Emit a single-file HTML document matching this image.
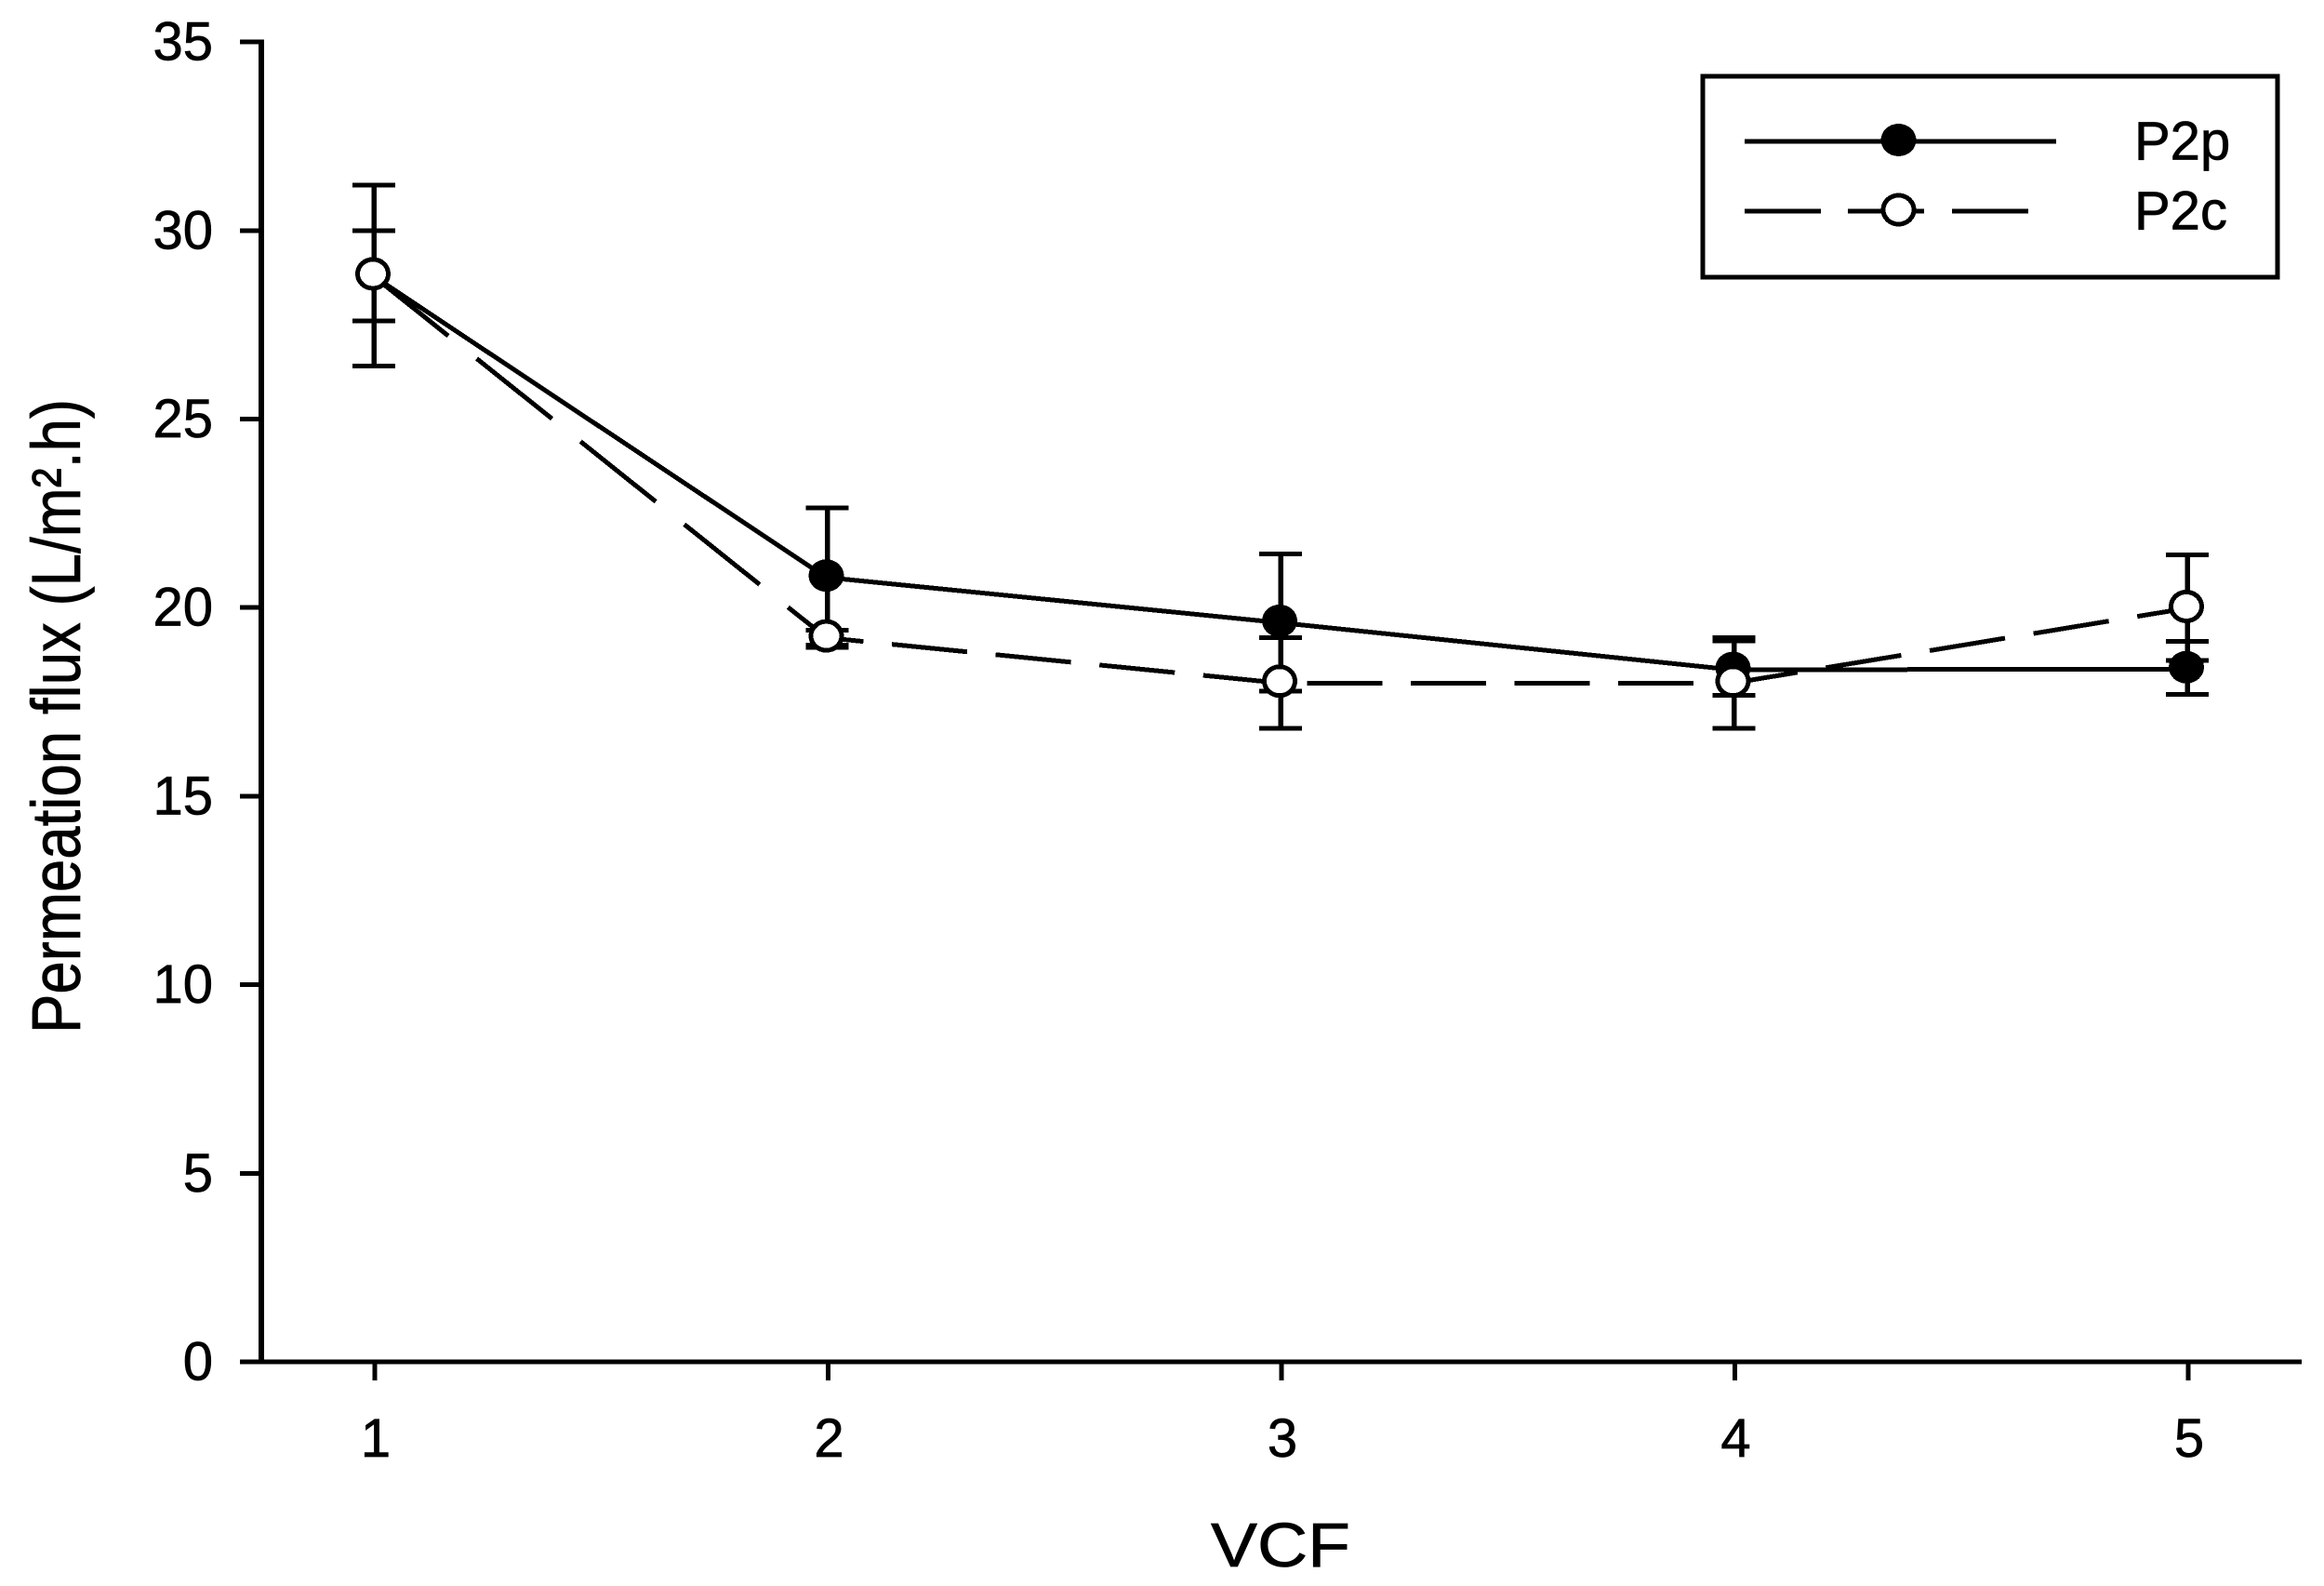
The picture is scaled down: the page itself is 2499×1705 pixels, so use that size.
<!DOCTYPE html>
<html lang="en">
<head>
<meta charset="utf-8">
<title>Permeation flux vs VCF</title>
<style>
  html, body { margin: 0; padding: 0; background: #ffffff; }
  body { width: 2499px; height: 1705px; overflow: hidden; }
  svg { display: block; shape-rendering: crispEdges; }
  text { font-family: "Liberation Sans", Arial, sans-serif; fill: #000000; stroke: #000000; stroke-width: 0.7px; }
</style>
</head>
<body>
<svg id="chart" xmlns="http://www.w3.org/2000/svg" width="2499" height="1705" viewBox="0 0 2499 1705">
  <rect x="0" y="0" width="2499" height="1705" fill="#ffffff"/>

  <g id="axes"></g>
  <g id="error-bars"></g>
  <g id="series-p2p"></g>
  <g id="series-p2c"></g>

  <text x="1302" y="1684" font-size="67" textLength="150" lengthAdjust="spacingAndGlyphs">VCF</text>
  <text transform="translate(86 1111) rotate(-90)" x="0" y="0" font-size="74" textLength="682" lengthAdjust="spacingAndGlyphs">Permeation flux (L/m².h)</text>

  <g>
    <rect x="1831" y="82" width="618" height="216" fill="#ffffff" stroke="#000000" stroke-width="5"/>
    <g>
      <line x1="1876" y1="152" x2="2211" y2="152" stroke="#000000" stroke-width="5"/>
      <ellipse cx="2041.5" cy="150.5" rx="19" ry="17.5" fill="#000000"/>
      <text x="2295" y="171.5" font-size="58">P2p</text>
    </g>
    <g>
      <line x1="1876" y1="227" x2="1958" y2="227" stroke="#000000" stroke-width="5"/>
      <line x1="1987" y1="227" x2="2069" y2="227" stroke="#000000" stroke-width="5"/>
      <line x1="2099" y1="227" x2="2181" y2="227" stroke="#000000" stroke-width="5"/>
      <ellipse cx="2041.5" cy="225.5" rx="16.5" ry="15.5" fill="#ffffff" stroke="#000000" stroke-width="5"/>
      <text x="2295" y="246.5" font-size="58">P2c</text>
    </g>
  </g>
</svg>

<script>
const categories = [1, 2, 3, 4, 5];
const yTickLabels = [0, 5, 10, 15, 20, 25, 30, 35];
const p2pValues = [28.85, 20.85, 19.65, 18.40, 18.42];
const p2pUpper = [30.0, 22.65, 21.42, 19.12, 19.10];
const p2pLower = [27.6, 18.95, 17.78, 17.68, 17.70];
const p2cValues = [28.85, 19.25, 18.05, 18.05, 20.03];
const p2cUpper = [31.2, 19.40, 19.20, 19.20, 21.40];
const p2cLower = [26.4, 19.00, 16.80, 16.80, 18.60];

const NS = 'http://www.w3.org/2000/svg';
function xScale(v) { return 403 + (v - 1) * 487.5; }
function yScale(v) { return 1464 - v * 40.54; }
const markerShift = -2;
const lineDrop = 2;

function make(tag, attrs, parent) {
  const el = document.createElementNS(NS, tag);
  for (const k in attrs) el.setAttribute(k, attrs[k]);
  parent.appendChild(el);
  return el;
}

const axes = document.getElementById('axes');
const errorBars = document.getElementById('error-bars');
const seriesP = document.getElementById('series-p2p');
const seriesC = document.getElementById('series-p2c');

/* axis lines */
const yAxisLine = make('line', { x1: 281, y1: yScale(35) - 2.5, x2: 281, y2: yScale(0), stroke: '#000', 'stroke-width': 6 }, axes);


const xAxisLine = make('line', { x1: 258, y1: yScale(0), x2: 2475, y2: yScale(0), stroke: '#000', 'stroke-width': 5 }, axes);



/* y ticks */
yTickLabels.forEach(function (v) {
  const tick = make('line', { x1: 258, y1: yScale(v), x2: 281, y2: yScale(v), stroke: '#000', 'stroke-width': 5 }, axes);
  
  
  const label = make('text', { x: 229, y: yScale(v) + 19.5, 'font-size': 58, 'text-anchor': 'end' }, axes);
  
  
  label.textContent = String(v);
});

/* x ticks */
categories.forEach(function (v) {
  const tick = make('line', { x1: xScale(v), y1: yScale(0), x2: xScale(v), y2: yScale(0) + 20, stroke: '#000', 'stroke-width': 5 }, axes);
  
  
  const label = make('text', { x: xScale(v) + 1, y: 1566, 'font-size': 58, 'text-anchor': 'middle' }, axes);
  
  
  label.textContent = String(v);
});

/* error bars */
function drawErrors(uppers, lowers, seriesName) {
  categories.forEach(function (c, i) {
    const x = xScale(c) - 1;
    const yU = yScale(uppers[i]);
    const yL = yScale(lowers[i]);
    const stem = make('line', { x1: x, y1: yU, x2: x, y2: yL, stroke: '#000', 'stroke-width': 5.5 }, errorBars);
    
    
    const capTop = make('line', { x1: x - 23, y1: yU, x2: x + 23, y2: yU, stroke: '#000', 'stroke-width': 5 }, errorBars);
    
    
    const capBottom = make('line', { x1: x - 23, y1: yL, x2: x + 23, y2: yL, stroke: '#000', 'stroke-width': 5 }, errorBars);
    
    
  });
}
drawErrors(p2pUpper, p2pLower, 'p2p');
drawErrors(p2cUpper, p2cLower, 'p2c');

/* solid series */
const p2pPoints = categories.map(function (c, i) {
  return [xScale(c) + markerShift, yScale(p2pValues[i])];
});
const p2pLine = make('polyline', {
  points: p2pPoints.map(function (p) { return p[0] + ',' + (p[1] + lineDrop); }).join(' '),
  fill: 'none', stroke: '#000', 'stroke-width': 5
}, seriesP);


p2pPoints.forEach(function (p) {
  const m = make('ellipse', { cx: p[0], cy: p[1], rx: 19, ry: 17.5, fill: '#000' }, seriesP);
  
  
});

/* dashed series: the dash pattern repeats along x */
const p2cPoints = categories.map(function (c, i) {
  return [xScale(c) + markerShift, yScale(p2cValues[i])];
});
const dashPeriod = 111.6;
const dashRun = 81;
function polyY(pts, x) {
  for (let i = 0; i < pts.length - 1; i++) {
    if (x <= pts[i + 1][0]) {
      const t = (x - pts[i][0]) / (pts[i + 1][0] - pts[i][0]);
      return pts[i][1] + t * (pts[i + 1][1] - pts[i][1]);
    }
  }
  return pts[pts.length - 1][1];
}
const lastX = p2cPoints[p2cPoints.length - 1][0];
for (let x0 = p2cPoints[0][0]; x0 < lastX; x0 += dashPeriod) {
  const x1 = Math.min(x0 + dashRun, lastX);
  const pts = [[x0, polyY(p2cPoints, x0)]];
  p2cPoints.forEach(function (p) {
    if (p[0] > x0 && p[0] < x1) pts.push(p);
  });
  pts.push([x1, polyY(p2cPoints, x1)]);
  const dash = make('polyline', {
    points: pts.map(function (p) { return p[0] + ',' + (p[1] + lineDrop); }).join(' '),
    fill: 'none', stroke: '#000', 'stroke-width': 5
  }, seriesC);
  
  
}
p2cPoints.forEach(function (p) {
  const m = make('ellipse', { cx: p[0], cy: p[1], rx: 16.5, ry: 15.5, fill: '#fff', stroke: '#000', 'stroke-width': 5 }, seriesC);
  
  
});
</script>
</body>
</html>
